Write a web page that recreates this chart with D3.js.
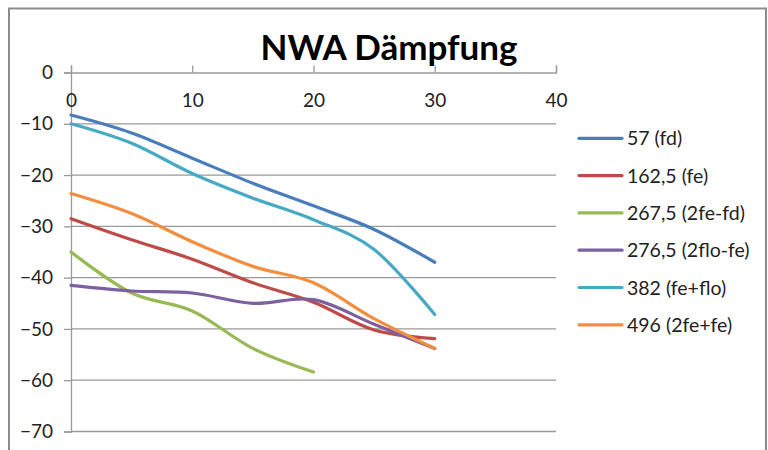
<!DOCTYPE html>
<html><head><meta charset="utf-8">
<script src="https://cdn.jsdelivr.net/npm/d3@7"></script>
<style>body{margin:0;background:#fff}svg{display:block}text{font-family:Lato,"Open Sans",sans-serif;fill:#222}</style>
</head><body><svg id="c" width="768" height="450"></svg>
<script>
const xValues = [0, 5, 10, 15, 20, 25, 30];
const seriesNames = ["57 (fd)", "162,5 (fe)", "267,5 (2fe-fd)", "276,5 (2flo-fe)", "382 (fe+flo)", "496 (2fe+fe)"];
const s57 = [-8.3, -11.8, -16.7, -21.6, -26, -30.6, -37];
const s162 = [-28.5, -32.6, -36.4, -41, -44.8, -50.2, -51.9];
const s267 = [-35, -43, -46.5, -53.8, -58.4];
const s276 = [-41.5, -42.6, -43, -45, -44.3, -49.1, -53.8];
const s382 = [-10, -13.8, -19.7, -24.5, -28.7, -34.5, -47.2];
const s496 = [-23.6, -27.5, -33, -37.8, -41, -48, -53.8];
const colors = ["#4A7EBB", "#BE4B48", "#98B954", "#7D60A0", "#46AAC5", "#F28E3E"];
const xTicks = [0, 10, 20, 30, 40];
const yTicks = [0, -10, -20, -30, -40, -50, -60, -70];
const title = "NWA Dämpfung";

const allSeries = [s57, s162, s267, s276, s382, s496];
const svg = d3.select("#c");
// outer frame
svg.append("rect").attr("x", 9).attr("y", 8.5).attr("width", 757).attr("height", 450)
  .attr("fill", "#fff").attr("stroke", "#8c8c8c").attr("stroke-width", 2);

const x = d3.scaleLinear().domain([0, 40]).range([71, 556]);
const y = d3.scaleLinear().domain([0, -70]).range([72.5, 431.5]);

// gridlines
svg.append("g").selectAll("line").data(yTicks.filter(d => d !== 0)).join("line")
  .attr("x1", x(0)).attr("x2", x(40)).attr("y1", d => y(d)).attr("y2", d => y(d))
  .attr("stroke", "#999").attr("stroke-width", 1.3);

// y axis
const yAxis = svg.append("g").attr("transform", `translate(${x(0)},0)`)
  .call(d3.axisLeft(y).tickValues(yTicks).tickSize(7).tickPadding(11).tickFormat(d3.format("d")));
yAxis.select(".domain").attr("stroke", "#999").attr("stroke-width", 1.3);
yAxis.selectAll(".tick line").attr("stroke", "#999").attr("stroke-width", 1.3);
yAxis.selectAll("text").attr("font-size", 19).style("fill", "#222").attr("font-family", "Lato");

// x axis at top, ticks up, labels below line
const xAxis = svg.append("g").attr("transform", `translate(0,${y(0)})`)
  .call(d3.axisTop(x).tickValues(xTicks).tickSize(7).tickFormat(d3.format("d")));
xAxis.select(".domain").attr("stroke", "#999").attr("stroke-width", 1.3);
xAxis.selectAll(".tick line").attr("stroke", "#999").attr("stroke-width", 1.3);
xAxis.selectAll("text").attr("y", 34.5).attr("font-size", 19).style("fill", "#222").attr("font-family", "Lato");

// lines
const line = d3.line().x((d, i) => x(xValues[i])).y(d => y(d)).curve(d3.curveCatmullRom.alpha(0));
svg.append("g").selectAll("path").data(allSeries).join("path")
  .attr("d", d => line(d)).attr("fill", "none")
  .attr("stroke", (d, i) => colors[i]).attr("stroke-width", 3.2).attr("stroke-linecap", "round");

// title
svg.append("text").attr("x", 389).attr("y", 60).attr("text-anchor", "middle")
  .attr("font-size", 35).attr("font-weight", "bold").style("fill", "#000").text(title);

// legend
const lg = svg.append("g").selectAll("g").data(seriesNames).join("g")
  .attr("transform", (d, i) => `translate(579,${138.3 + i * 37.3})`);
lg.append("line").attr("x1", 0).attr("x2", 43).attr("stroke", (d, i) => colors[i])
  .attr("stroke-width", 3.2).attr("stroke-linecap", "round");
lg.append("text").attr("x", 48).attr("y", 7).attr("font-size", 19.5).style("fill", "#222").text(d => d);
</script></body></html>
